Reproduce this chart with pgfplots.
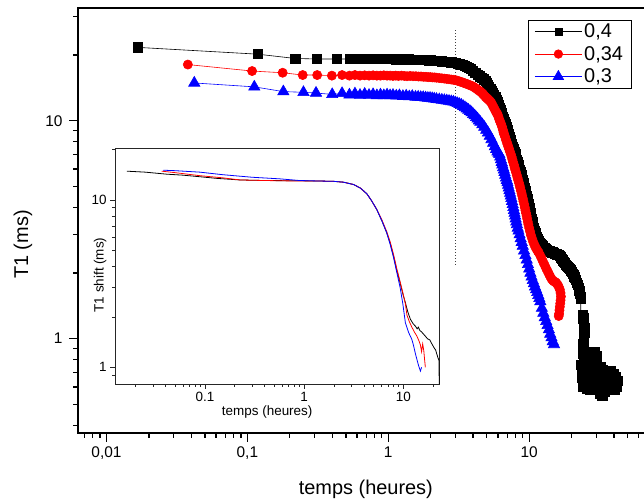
\documentclass[border=0pt]{standalone}
\usepackage{fontspec}
\setmainfont{Liberation Sans}
\usepackage{pgfplots}
\usepackage{pgfplotstable}
\pgfplotsset{compat=1.18}

\pgfplotstableread{
t T
0.0167 21.7
0.118 20.2
0.219 19.3
0.31 19.2
0.43 19.2
0.53 19.2
0.58 19.2
0.62 19.25
0.66 19.2
0.70 19.2
0.74 19.25
0.78 19.2
0.82 19.2
0.86 19.2
0.90 19.25
0.94 19.2
0.98 19.2
1.02 19.2
1.06 19.2
1.10 19.2
1.14 19.15
1.19 19.2
1.24 19.15
1.29 19.15
1.34 19.1
1.40 19.15
1.46 19.1
1.52 19.1
1.59 19.1
1.66 19.05
1.73 19.05
1.80 19.0
1.87 19.0
1.94 18.95
2.01 18.95
2.08 18.9
2.15 18.9
2.22 18.85
2.3 18.8
2.4 18.75
2.5 18.7
2.6 18.65
2.7 18.6
2.8 18.55
2.9 18.45
3.0 18.4
3.1 18.3
3.2 18.2
3.3 18.1
3.4 18.0
3.5 17.85
3.6 17.7
3.72 17.5
3.85 17.25
4.0 16.95
4.15 16.6
4.3 16.3
4.45 16.0
4.6 15.75
4.75 15.5
4.89 15.2
5.0 14.9
5.1 14.6
5.2 14.3
5.3 14.0
5.4 13.7
5.5 13.45
5.6 13.2
5.75 12.8
5.85 12.45
5.95 12.15
6.05 11.85
6.15 11.5
6.25 11.2
6.35 10.9
6.42 10.7
6.5 10.45
6.6 10.15
6.7 9.9
6.8 9.65
6.9 9.4
7.0 9.1
7.08 8.85
7.15 8.66
7.25 8.45
7.35 8.2
7.45 8.0
7.55 7.8
7.65 7.6
7.75 7.42
7.85 7.23
7.98 7.01
8.08 6.82
8.18 6.63
8.28 6.45
8.38 6.28
8.48 6.1
8.58 5.95
8.68 5.8
8.78 5.63
8.9 5.47
9.0 5.33
9.1 5.2
9.2 5.06
9.3 4.92
9.4 4.78
9.5 4.65
9.6 4.52
9.7 4.4
9.8 4.27
9.92 4.13
10.02 4.0
10.12 3.88
10.22 3.77
10.32 3.66
10.42 3.55
10.52 3.44
10.62 3.34
10.76 3.22
10.9 3.13
11.05 3.05
11.2 2.98
11.35 2.92
11.5 2.87
11.7 2.81
11.9 2.76
12.1 2.72
12.3 2.68
12.5 2.65
12.7 2.62
12.9 2.6
13.1 2.58
13.4 2.56
13.7 2.54
14.0 2.52
14.3 2.5
14.6 2.49
14.9 2.48
15.2 2.46
15.5 2.45
15.8 2.44
16.1 2.42
16.4 2.39
16.7 2.36
17.0 2.33
17.3 2.29
17.6 2.26
17.9 2.22
18.2 2.19
18.5 2.16
18.8 2.14
19.1 2.12
19.4 2.09
19.7 2.06
20.0 2.02
20.3 1.99
20.6 1.96
20.9 1.93
21.2 1.9
21.5 1.86
21.8 1.81
22.1 1.76
22.4 1.71
22.7 1.66
22.9 1.61
23.1 1.56
23.2 1.52
23.4 0.76
23.9 1.29
24.2 1.24
24.5 1.18
24.7 1.12
24.6 1.06
24.4 1.0
24.2 0.95
24.0 0.9
24.0 0.85
24.3 0.8
25.0 0.76
26.0 0.80
27.0 0.84
28.0 0.87
29.0 0.87
30.0 0.83
29.0 0.79
28.0 0.76
26.5 0.73
25.0 0.70
23.8 0.71
23.6 0.66
24.5 0.63
26.0 0.61
27.5 0.64
29.0 0.68
30.5 0.72
32.0 0.74
33.5 0.72
35.0 0.70
36.5 0.71
38.0 0.71
39.5 0.69
41.0 0.67
42.3 0.64
42.0 0.60
40.5 0.58
39.0 0.60
37.5 0.62
36.0 0.60
34.5 0.57
33.0 0.55
31.5 0.56
30.0 0.58
28.5 0.60
27.0 0.58
25.5 0.59
24.2 0.60
25.5 0.66
27.5 0.70
29.5 0.66
31.5 0.64
33.5 0.65
35.5 0.65
37.5 0.66
31.0 0.68
33.0 0.60
37.0 0.58
}\blackdata

\pgfplotstableread{
t T
0.0378 18.1
0.108 16.9
0.178 16.6
0.247 16.2
0.313 16.2
0.398 16.1
0.47 16.2
0.53 16.1
0.58 16.2
0.63 16.1
0.68 16.15
0.73 16.1
0.78 16.15
0.83 16.1
0.88 16.1
0.93 16.15
0.98 16.1
1.03 16.1
1.08 16.05
1.13 16.1
1.18 16.05
1.24 16.1
1.30 16.05
1.36 16.0
1.43 16.05
1.50 16.0
1.57 16.0
1.64 15.95
1.71 15.95
1.78 15.9
1.85 15.9
1.92 15.85
1.99 15.85
2.06 15.8
2.13 15.8
2.2 15.75
2.3 15.7
2.4 15.65
2.5 15.6
2.6 15.55
2.7 15.5
2.8 15.45
2.9 15.4
3.0 15.35
3.1 15.25
3.2 15.15
3.3 15.05
3.4 14.95
3.5 14.85
3.6 14.75
3.7 14.65
3.8 14.55
3.9 14.45
4.0 14.35
4.1 14.2
4.2 14.05
4.3 13.9
4.4 13.75
4.5 13.6
4.6 13.45
4.7 13.25
4.8 13.05
4.9 12.85
5.0 12.7
5.1 12.55
5.2 12.4
5.3 12.25
5.4 12.05
5.5 11.75
5.6 11.5
5.7 11.25
5.8 11.0
5.88 10.85
5.96 10.7
6.04 10.45
6.13 10.15
6.22 9.9
6.32 9.65
6.41 9.4
6.5 9.1
6.58 8.85
6.64 8.66
6.74 8.45
6.83 8.2
6.92 8.0
7.01 7.8
7.11 7.6
7.2 7.42
7.29 7.23
7.41 7.01
7.51 6.82
7.6 6.63
7.69 6.45
7.79 6.28
7.88 6.1
7.97 5.95
8.06 5.8
8.16 5.63
8.27 5.47
8.36 5.33
8.45 5.2
8.55 5.06
8.64 4.92
8.73 4.78
8.83 4.65
8.92 4.52
9.01 4.4
9.1 4.27
9.22 4.13
9.31 4.0
9.4 3.88
9.49 3.77
9.59 3.66
9.68 3.55
9.77 3.44
9.87 3.34
10.0 3.22
10.15 3.1
10.3 2.98
10.5 2.87
10.7 2.77
10.9 2.69
11.1 2.62
11.3 2.57
11.5 2.52
11.7 2.48
12.0 2.4
12.3 2.32
12.6 2.24
12.9 2.17
13.2 2.1
13.5 2.04
13.8 1.98
14.1 1.93
14.4 1.88
14.7 1.85
15.0 1.83
15.3 1.82
15.6 1.8
15.9 1.77
16.2 1.73
16.5 1.68
16.7 1.62
16.8 1.56
16.7 1.5
16.6 1.45
16.5 1.4
16.4 1.35
16.3 1.3
16.2 1.27
}\reddata

\pgfplotstableread{
t T
0.042 14.9
0.112 14.3
0.18 13.6
0.25 13.5
0.307 13.4
0.40 13.2
0.47 13.35
0.53 13.15
0.58 13.3
0.63 13.1
0.68 13.25
0.73 13.1
0.78 13.2
0.83 13.05
0.88 13.15
0.93 13.05
0.98 13.15
1.03 13.05
1.08 13.1
1.14 13.0
1.20 13.05
1.27 12.95
1.34 13.0
1.41 12.9
1.48 12.95
1.56 12.85
1.63 12.85
1.70 12.8
1.77 12.8
1.84 12.75
1.91 12.7
1.98 12.7
2.05 12.65
2.12 12.6
2.2 12.55
2.3 12.5
2.4 12.45
2.5 12.4
2.6 12.35
2.7 12.3
2.8 12.25
2.9 12.2
3.0 12.1
3.1 12.0
3.2 11.9
3.3 11.8
3.4 11.65
3.5 11.5
3.6 11.35
3.7 11.2
3.8 11.05
3.9 10.9
4.0 10.7
4.1 10.55
4.2 10.35
4.3 10.2
4.4 10.0
4.5 9.85
4.65 9.6
4.8 9.35
4.95 9.05
5.1 8.8
5.25 8.5
5.4 8.2
5.55 7.9
5.7 7.6
5.83 7.4
5.95 7.2
6.06 7.1
6.14 7.01
6.22 6.82
6.30 6.63
6.38 6.45
6.45 6.28
6.53 6.1
6.61 5.95
6.68 5.8
6.76 5.63
6.85 5.47
6.93 5.33
7.01 5.2
7.08 5.06
7.16 4.92
7.24 4.78
7.32 4.65
7.39 4.52
7.47 4.4
7.55 4.27
7.64 4.13
7.72 4.0
7.79 3.88
7.87 3.77
7.95 3.66
8.02 3.55
8.1 3.44
8.18 3.34
8.29 3.22
8.4 3.12
8.55 3.0
8.7 2.88
8.85 2.77
9.0 2.66
9.2 2.53
9.4 2.41
9.6 2.3
9.8 2.19
10.0 2.09
10.2 2.0
10.4 1.92
10.6 1.85
10.8 1.79
11.0 1.73
11.2 1.68
11.4 1.63
11.6 1.58
11.8 1.53
12.0 1.48
12.3 1.38
12.6 1.31
12.9 1.25
13.2 1.2
13.5 1.15
13.8 1.1
14.1 1.05
14.4 1.01
14.7 0.97
15.0 0.94
}\bluedata

\pgfplotstableread{
t T
0.0163 14.9
0.025 14.7
0.041 14.3
0.06 14.1
0.089 13.8
0.13 13.5
0.226 13.2
0.4 13.1
0.91 13.05
1.5 13.0
1.98 12.95
2.5 12.8
3.15 12.4
3.7 11.8
4.3 10.9
4.8 9.9
5.4 8.8
6.1 7.5
6.8 6.4
7.4 5.5
8.0 4.6
8.6 3.8
9.3 3.2
9.9 2.75
10.5 2.44
11.1 2.15
11.8 1.94
12.6 1.82
13.3 1.76
13.8 1.7
14.2 1.74
14.7 1.66
15.3 1.63
16.0 1.58
16.8 1.53
17.6 1.48
18.5 1.46
19.2 1.40
20.0 1.34
20.6 1.30
21.2 1.27
21.8 1.2
22.4 1.14
22.9 1.1
23.1 0.75
}\blackinset

\pgfplotstableread{
t T
0.0366 14.9
0.05 14.6
0.089 14.0
0.15 13.6
0.226 13.2
0.4 13.1
0.9 13.0
1.5 13.0
2.0 12.95
2.5 12.8
3.15 12.4
3.7 11.8
4.3 10.9
4.8 9.9
5.4 8.8
6.1 7.6
6.8 6.5
7.4 5.6
8.0 4.7
8.6 3.9
9.3 3.25
9.9 2.8
10.5 2.4
10.9 2.05
11.5 1.88
12.2 1.74
13.0 1.62
13.7 1.54
14.4 1.44
14.9 1.36
15.3 1.24
15.7 1.38
16.1 1.26
16.4 1.12
16.7 1.0
}\redinset

\pgfplotstableread{
t T
0.038 15.1
0.05 15.0
0.089 14.7
0.15 14.2
0.3 13.7
0.573 13.4
0.9 13.1
1.5 13.0
2.0 12.95
2.5 12.8
3.15 12.4
3.7 11.8
4.3 10.9
4.8 9.9
5.4 8.8
6.1 7.5
6.8 6.4
7.4 5.4
8.0 4.5
8.6 3.7
9.3 3.0
9.9 2.4
10.5 1.85
11.3 1.62
12.2 1.47
12.7 1.35
13.2 1.22
13.7 1.12
14.3 1.02
14.9 0.95
15.3 1.0
}\blueinset

\begin{document}
\begin{tikzpicture}
\useasboundingbox (0bp,0bp) rectangle (644bp,500bp);
\begin{axis}[
  at={(78bp,67bp)}, anchor=south west,
  scale only axis, width=570bp, height=425bp,
  xmode=log, ymode=log,
  xmin=0.00628, xmax=69.7, ymin=0.369, ymax=32.9,
  axis line style={line width=1.6pt},
  tick align=outside,
  xtick pos=bottom, ytick pos=left,
  major tick length=9bp, minor tick length=5bp,
  every tick/.style={black, line width=1.3pt},
  xtick={0.01,0.1,1,10}, xticklabels={{0,01},{0,1},1,10},
  minor xtick={0.007,0.008,0.009,0.02,0.03,0.04,0.05,0.06,0.07,0.08,0.09,0.2,0.3,0.4,0.5,0.6,0.7,0.8,0.9,2,3,4,5,6,7,8,9,20,30,40,50,60},
  ytick={1,10}, yticklabels={1,10},
  minor ytick={0.4,0.5,0.6,0.7,0.8,0.9,2,3,4,5,6,7,8,9,20,30},
  /pgf/number format/assume math mode=true,
  tick label style={font=\fontsize{15.5}{16}\selectfont},
  xticklabel style={yshift=-1bp},
  yticklabel style={xshift=-3bp},
  xlabel={temps (heures)}, ylabel={T1 (ms)},
  label style={font=\fontsize{20}{22}\selectfont},
  xlabel style={at={(axis description cs:0.505,-0.132)}, anchor=center},
  ylabel style={at={(axis description cs:-0.0965,0.4435)}, anchor=center},
  legend style={at={(axis description cs:0.9701,0.9718)}, anchor=north east,
    draw=black, line width=0.8pt, outer sep=0pt,
    font=\fontsize{20}{22}\selectfont, inner xsep=6bp, inner ysep=2bp,
    row sep=3bp, cells={anchor=west, inner xsep=1.5bp, inner ysep=4bp},
    /tikz/every even column/.append style={column sep=4bp}},
  legend image code/.code={\draw[mark repeat=2,mark phase=2] plot coordinates {(0bp,0bp) (23.5bp,0bp) (47bp,0bp)};},
]
\addlegendimage{black, line width=0.6pt, mark=square*, mark size=3.5bp, mark options={solid, fill=black}}
\addlegendentry{0,4}
\addlegendimage{red, line width=0.6pt, mark=*, mark size=4.3bp, mark options={solid, fill=red}}
\addlegendentry{0,34}
\addlegendimage{blue, line width=0.6pt, mark=triangle*, mark size=6bp, mark options={solid, fill=blue}}
\addlegendentry{0,3}
\addplot[forget plot, black!75, line width=0.8pt, dash pattern=on 0.8bp off 2.2bp] coordinates {(3.01,2.18) (3.01,26.2)};
\addplot[forget plot, black, line width=0.6pt, mark=square*, mark size=4.6bp, mark options={solid, fill=black}] table[x=t,y=T] {\blackdata};
\addplot[forget plot, red, line width=0.6pt, mark=*, mark size=4.6bp, mark options={solid, fill=red}] table[x=t,y=T] {\reddata};
\addplot[forget plot, blue, line width=0.6pt, mark=triangle*, mark size=6.5bp, mark options={solid, fill=blue}] table[x=t,y=T] {\bluedata};
\end{axis}
\begin{axis}[
  at={(115bp,116bp)}, anchor=south west,
  scale only axis, width=324.5bp, height=236bp,
  xmode=log, ymode=log,
  xmin=0.01239, xmax=23.2, ymin=0.795, ymax=20.5,
  axis background/.style={fill=white},
  axis line style={line width=0.8pt, black!85},
  tick align=outside,
  xtick pos=bottom, ytick pos=left,
  major tick length=5bp, minor tick length=3bp,
  every tick/.style={black!85, line width=0.6pt},
  xtick={0.1,1,10}, xticklabels={0.1,1,10},
  minor xtick={0.02,0.03,0.04,0.05,0.06,0.07,0.08,0.09,0.2,0.3,0.4,0.5,0.6,0.7,0.8,0.9,2,3,4,5,6,7,8,9,20},
  ytick={1,10}, yticklabels={1,10},
  minor ytick={0.9,2,3,4,5,6,7,8,9,20},
  /pgf/number format/assume math mode=true,
  tick label style={font=\fontsize{13.5}{14}\selectfont},
  xlabel={temps (heures)}, ylabel={T1 shift (ms)},
  label style={font=\fontsize{13.5}{14}\selectfont},
  xlabel style={at={(axis description cs:0.469,-0.119)}, anchor=center},
  ylabel style={at={(axis description cs:-0.046,0.462)}, anchor=center},
]
\addplot[black, line width=0.8pt] table[x=t,y=T] {\blackinset};
\addplot[red, line width=0.8pt] table[x=t,y=T] {\redinset};
\addplot[blue, line width=0.8pt] table[x=t,y=T] {\blueinset};
\end{axis}
\end{tikzpicture}
\end{document}
